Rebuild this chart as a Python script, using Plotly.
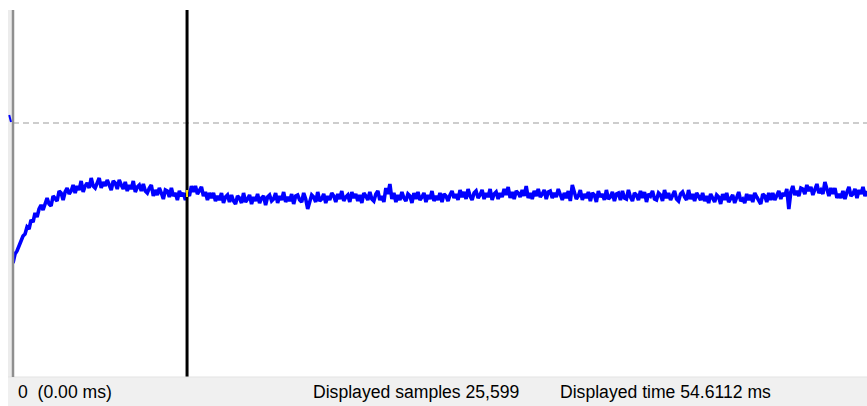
import numpy as np
import plotly.graph_objects as go

# ---- data (signal level in display units, 0 = bottom of trace area) ----
total_time_ms = 54.6112
displayed_samples = 25599
cursor_time_ms = 11.13
trigger_level = 254
y_range = [0, 367]

signal = [
    114, 123, 126, 132, 136, 141, 143, 150, 148, 157, 155, 164, 160, 168,
    172, 167, 172, 179, 173, 171, 181, 179, 176, 186, 184, 177, 185, 189, 183,
    186, 192, 184, 191, 187, 196, 185, 191, 194, 189, 199, 191, 189, 195, 199,
    189, 195, 191, 197, 192, 187, 196, 194, 188, 197, 192, 188, 195, 186, 192,
    188, 196, 185, 190, 192, 186, 193, 186, 184, 189, 192, 181, 187, 182, 189,
    184, 178, 187, 186, 180, 189, 181, 184, 177, 186, 181, 184, 177,
    184, 181, 191, 185, 191, 183, 187, 190, 181, 185, 177, 184, 179, 184, 176,
    181, 177, 184, 174, 180, 182, 175,
    182, 176, 173, 181, 179, 174, 184, 175, 178, 182, 173, 180, 176, 183, 174,
    179, 181, 172, 180, 182,
    176, 178, 184, 174, 181, 177, 185, 175, 180, 176, 183, 173, 181, 182, 177,
    175, 184, 178, 168, 174, 182, 180, 175, 185, 176, 178, 183, 174, 181,
    177, 184, 181, 175, 183, 178, 186, 176, 180, 182, 175, 185, 179, 183, 176,
    182, 174, 184, 181, 177, 185, 178, 176, 183, 186, 177, 181, 175, 189, 183,
    193, 178, 184, 175, 182, 177, 185, 179, 176, 183, 181, 174, 184, 178, 185,
    177, 180, 184, 175, 182, 178, 186, 176, 181, 177, 184, 175, 183, 181, 176,
    182,
    186, 179, 183, 177, 187, 180, 185, 178, 188, 181, 177, 184, 186, 179, 182,
    187, 178, 184, 180, 188, 177, 183, 185, 178, 184,
    180, 188, 182, 190, 179, 185, 178, 186, 184, 180, 187, 181, 191, 179, 184,
    178, 186, 181, 188, 180, 183, 187, 178, 185, 186, 179, 184, 180, 188, 181,
    177, 184, 179, 186, 176, 192, 185, 178, 181, 187, 177, 183, 179, 185, 176,
    184, 182, 175, 186, 180, 183, 177, 187, 178, 180, 185, 176, 183, 184, 177,
    186, 179, 178, 187, 180, 176, 184, 182, 177, 186, 179, 185, 175, 183, 181,
    186, 178, 177, 184, 182, 176, 187, 179, 184, 177, 182, 186, 178, 176, 183,
    185, 180, 177, 187, 178, 183, 176, 184, 181, 177,
    184, 176, 181, 174, 183, 178, 175, 182, 180, 173, 183, 177, 184, 175, 179,
    182, 174, 181, 185, 176, 178, 174, 183, 177, 182, 175, 184, 180, 176, 173,
    183, 181, 175, 184, 177,
    184, 177, 182, 186, 178, 184, 181, 188, 168, 185, 191, 182, 186, 181, 189,
    188, 183, 192, 186, 190, 182, 189, 193, 184, 187, 183, 195, 188, 181, 189,
    183, 189, 179, 183, 179, 186, 178, 185, 190, 181, 183, 188, 179, 187, 183,
    190, 181, 186,
]

status_left = "0  (0.00 ms)"
status_mid = "Displayed samples " + f"{displayed_samples:,}"
status_right = f"Displayed time {total_time_ms} ms"

# ---- figure ----
W, H = 867, 406
t = np.linspace(0, total_time_ms, len(signal))

x0_px, y_top_px, y_bot_px = 13, 10, 377
xdom = [x0_px / W, 1.0]
ydom = [(H - y_bot_px) / H, (H - y_top_px) / H]

fig = go.Figure()

fig.add_trace(go.Scatter(
    x=[0, total_time_ms], y=[trigger_level, trigger_level], mode="lines",
    line=dict(color="#bdbdbd", width=1.3, dash="6px,4px"), hoverinfo="skip",
))
fig.add_trace(go.Scatter(
    x=t, y=signal, mode="lines",
    line=dict(color="#0000ff", width=3.6), hoverinfo="skip",
))
fig.add_trace(go.Scatter(
    x=[cursor_time_ms, cursor_time_ms], y=y_range, mode="lines",
    line=dict(color="#000000", width=3), hoverinfo="skip",
))
# cursor / signal crossing highlight
idx = int(np.argmin(np.abs(t - cursor_time_ms)))
fig.add_trace(go.Scatter(
    x=[cursor_time_ms, cursor_time_ms], y=[signal[idx] - 4, signal[idx] + 3], mode="lines",
    line=dict(color="#ffe000", width=2), hoverinfo="skip",
))

shapes = [
    # status bar
    dict(type="rect", xref="paper", yref="paper", x0=8 / W, x1=1, y0=0, y1=(H - y_bot_px) / H,
         fillcolor="#f0f0f0", line=dict(width=0), layer="below"),
    dict(type="line", xref="paper", yref="paper", x0=8 / W, x1=1,
         y0=(H - y_bot_px) / H, y1=(H - y_bot_px) / H, line=dict(color="#e3e3e3", width=1)),
    # left light strip
    dict(type="rect", xref="paper", yref="paper", x0=8 / W, x1=12 / W,
         y0=(H - y_bot_px) / H, y1=(H - y_top_px) / H,
         fillcolor="#ececec", line=dict(width=0), layer="below"),
    # left axis line
    dict(type="line", xref="paper", yref="paper", x0=13 / W, x1=13 / W,
         y0=(H - y_bot_px) / H, y1=(H - y_top_px) / H, line=dict(color="#8f8f8f", width=2.5)),
    # trigger level marker
    dict(type="line", xref="paper", yref="paper", x0=9.2 / W, x1=11 / W,
         y0=(H - 115) / H, y1=(H - 122) / H, line=dict(color="#0000ff", width=2)),
]

annotations = []
for txt, xpx in [(status_left, 16), (status_mid, 311), (status_right, 558)]:
    annotations.append(dict(
        text=txt, xref="paper", yref="paper", x=xpx / W, y=(H - 391.5) / H,
        xanchor="left", yanchor="middle", showarrow=False,
        font=dict(family="Liberation Sans, Arial, sans-serif", size=17.6, color="#000000"),
    ))

fig.update_layout(
    width=W, height=H, margin=dict(l=0, r=0, t=0, b=0),
    paper_bgcolor="#ffffff", plot_bgcolor="#ffffff",
    showlegend=False, shapes=shapes, annotations=annotations,
    xaxis=dict(domain=xdom, range=[0, total_time_ms], visible=False, fixedrange=True),
    yaxis=dict(domain=ydom, range=y_range, visible=False, fixedrange=True),
)

fig.write_html(
    "out.html",
    config={"displayModeBar": False, "staticPlot": True},
    post_script="document.body.style.margin='0px';document.body.style.overflow='hidden';",
)
